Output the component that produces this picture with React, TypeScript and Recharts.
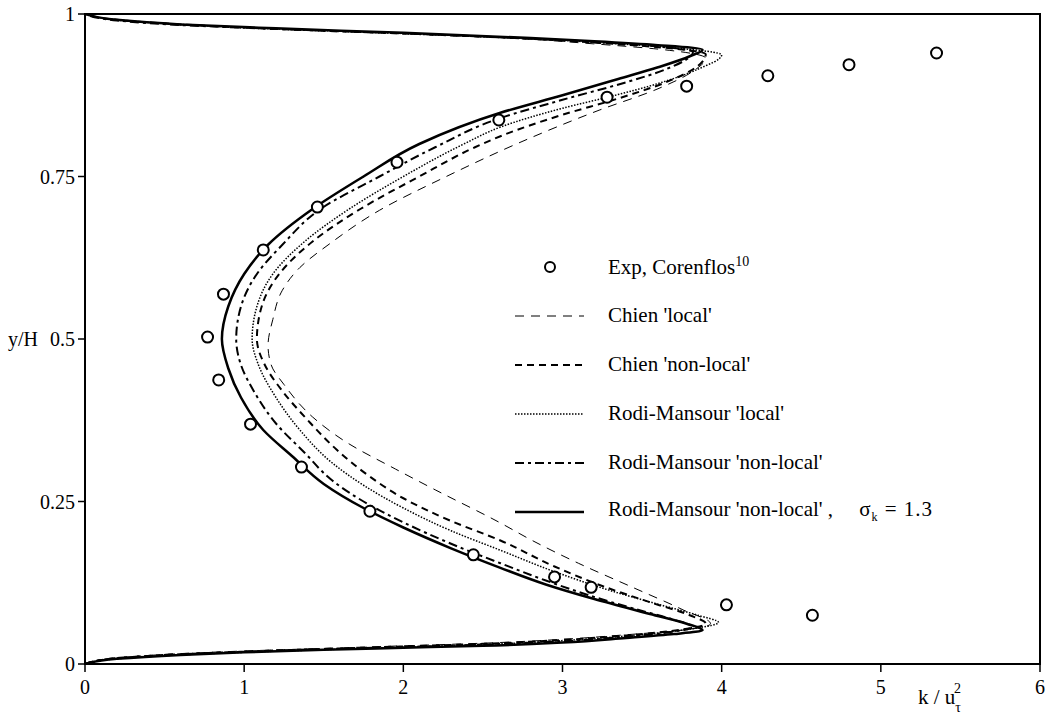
import {
  ComposedChart,
  Line,
  Scatter,
  XAxis,
  YAxis,
  Legend,
  ReferenceArea,
} from 'recharts'

type Pt = [number, number] // [k / u_tau^2, y / H]

const serif = '"Liberation Serif", "Times New Roman", Times, serif'

const xTicks = [0, 1, 2, 3, 4, 5, 6]
const yTicks = [0, 0.25, 0.5, 0.75, 1]

// experimental data, Corenflos
const expData: Pt[] = [
  [0.77, 0.503], [0.87, 0.569], [0.84, 0.437], [1.12, 0.637], [1.04, 0.369],
  [1.46, 0.703], [1.36, 0.303], [1.96, 0.772], [1.79, 0.235], [2.6, 0.837],
  [2.44, 0.168], [3.28, 0.872], [2.95, 0.134], [3.78, 0.889], [3.18, 0.118],
  [4.03, 0.091], [4.57, 0.075], [4.29, 0.905], [4.8, 0.922], [5.35, 0.94],
]

// each profile runs from the lower wall (y/H = 0) to the upper wall (y/H = 1)
const chienLocal: Pt[] = [
  [0, 0], [0.2, 0.009], [0.6, 0.016], [1.0, 0.02], [1.5, 0.024], [2.0, 0.028],
  [2.5, 0.032], [3.0, 0.038], [3.4, 0.045], [3.75, 0.052], [3.93, 0.062],
  [3.76, 0.083], [3.44, 0.118], [3.1, 0.155], [2.81, 0.19], [2.61, 0.217],
  [2.2, 0.268], [1.95, 0.3], [1.65, 0.34], [1.43, 0.38], [1.25, 0.43],
  [1.17, 0.46], [1.15, 0.49], [1.18, 0.53], [1.24, 0.575], [1.35, 0.61],
  [1.54, 0.647], [1.85, 0.698], [2.27, 0.75], [2.71, 0.8], [3.23, 0.852],
  [3.6, 0.885], [3.82, 0.912], [3.9, 0.932], [3.6, 0.946], [3.2, 0.954],
  [2.8, 0.961], [2.0, 0.97], [1.2, 0.977], [0.6, 0.984], [0.2, 0.991], [0, 1],
]

const chienNonLocal: Pt[] = [
  [0, 0], [0.2, 0.009], [0.6, 0.015], [1.0, 0.019], [1.5, 0.023], [2.0, 0.027],
  [2.5, 0.031], [3.0, 0.037], [3.4, 0.044], [3.75, 0.053], [3.9, 0.062],
  [3.8, 0.075], [3.55, 0.095], [3.25, 0.12], [2.95, 0.15], [2.61, 0.19],
  [2.3, 0.22], [2.0, 0.255], [1.78, 0.29], [1.58, 0.33], [1.4, 0.375],
  [1.24, 0.42], [1.13, 0.46], [1.08, 0.5], [1.11, 0.55], [1.22, 0.6],
  [1.43, 0.65], [1.73, 0.7], [2.1, 0.75], [2.45, 0.795], [2.61, 0.812],
  [3.0, 0.845], [3.35, 0.87], [3.65, 0.895], [3.85, 0.92], [3.9, 0.938],
  [3.6, 0.949], [3.2, 0.956], [2.8, 0.962], [2.0, 0.97], [1.2, 0.977],
  [0.6, 0.984], [0.2, 0.991], [0, 1],
]

const rodiLocal: Pt[] = [
  [0, 0], [0.2, 0.008], [0.6, 0.014], [1.0, 0.018], [1.5, 0.022], [2.0, 0.026],
  [2.5, 0.03], [3.0, 0.036], [3.4, 0.043], [3.75, 0.052], [3.98, 0.064],
  [3.85, 0.075], [3.6, 0.092], [3.3, 0.113], [2.95, 0.142], [2.61, 0.175],
  [2.3, 0.205], [2.0, 0.24], [1.75, 0.275], [1.55, 0.31], [1.35, 0.36],
  [1.2, 0.41], [1.09, 0.46], [1.05, 0.5], [1.08, 0.55], [1.18, 0.6],
  [1.38, 0.65], [1.66, 0.7], [2.0, 0.75], [2.38, 0.8], [2.61, 0.826],
  [3.0, 0.855], [3.3, 0.873], [3.6, 0.893], [3.85, 0.915], [4.0, 0.937],
  [3.7, 0.948], [3.3, 0.955], [2.8, 0.962], [2.0, 0.97], [1.2, 0.977],
  [0.6, 0.984], [0.2, 0.991], [0, 1],
]

const rodiNonLocal: Pt[] = [
  [0, 0], [0.2, 0.009], [0.6, 0.015], [1.0, 0.019], [1.5, 0.023], [2.0, 0.026],
  [2.5, 0.03], [3.0, 0.035], [3.4, 0.042], [3.7, 0.05], [3.82, 0.057],
  [3.7, 0.068], [3.45, 0.085], [3.15, 0.107], [2.9, 0.128], [2.61, 0.155],
  [2.3, 0.185], [2.0, 0.218], [1.75, 0.25], [1.55, 0.283], [1.38, 0.325],
  [1.2, 0.37], [1.06, 0.42], [0.98, 0.46], [0.95, 0.5], [0.98, 0.55],
  [1.08, 0.6], [1.24, 0.645], [1.48, 0.7], [1.85, 0.75], [2.2, 0.795],
  [2.61, 0.84], [3.0, 0.868], [3.4, 0.895], [3.65, 0.915], [3.82, 0.942],
  [3.55, 0.951], [3.2, 0.957], [2.8, 0.962], [2.0, 0.97], [1.2, 0.977],
  [0.6, 0.983], [0.2, 0.99], [0, 1],
]

const rodiNonLocalSigma: Pt[] = [
  [0, 0], [0.2, 0.008], [0.6, 0.014], [1.0, 0.018], [1.5, 0.022], [2.0, 0.025],
  [2.5, 0.028], [3.0, 0.033], [3.4, 0.04], [3.7, 0.046], [3.88, 0.052],
  [3.78, 0.062], [3.55, 0.077], [3.2, 0.1], [2.9, 0.122], [2.61, 0.148],
  [2.3, 0.178], [2.0, 0.21], [1.75, 0.24], [1.5, 0.277], [1.3, 0.32],
  [1.12, 0.36], [0.98, 0.41], [0.9, 0.455], [0.86, 0.5], [0.9, 0.55],
  [1.0, 0.6], [1.15, 0.645], [1.43, 0.7], [1.75, 0.75], [2.1, 0.8],
  [2.61, 0.848], [3.0, 0.875], [3.35, 0.9], [3.6, 0.918], [3.8, 0.935],
  [3.88, 0.945], [3.6, 0.952], [3.2, 0.958], [2.8, 0.963], [2.0, 0.971],
  [1.2, 0.978], [0.6, 0.984], [0.2, 0.991], [0, 1],
]

const toRows = (pts: Pt[]) => pts.map(([k, y]) => ({ k, y }))

const curves = [
  { name: "Chien 'local'", pts: chienLocal, width: 1, dash: '9 7' },
  { name: "Chien 'non-local'", pts: chienNonLocal, width: 2, dash: '7 5' },
  { name: "Rodi-Mansour 'local'", pts: rodiLocal, width: 1.5, dash: '1.5 1.5' },
  { name: "Rodi-Mansour 'non-local'", pts: rodiNonLocal, width: 2, dash: '9 4 3 4' },
  { name: "Rodi-Mansour 'non-local' ,", pts: rodiNonLocalSigma, width: 2.5, dash: undefined },
]

function LegendBox() {
  const row = { display: 'flex', alignItems: 'center', height: 49 } as const
  return (
    <div style={{ fontFamily: serif, fontSize: 21, color: '#000' }}>
      <div style={row}>
        <svg width={100} height={20}>
          <circle cx={42} cy={10} r={5} fill="#fff" stroke="#000" strokeWidth={2} />
        </svg>
        <span>
          Exp, Corenflos<sup style={{ fontSize: 14, color: '#000' }}>10</sup>
        </span>
      </div>
      {curves.map((c) => (
        <div key={c.name} style={row}>
          <svg width={100} height={20}>
            <line
              x1={7}
              x2={76}
              y1={10}
              y2={10}
              stroke="#000"
              strokeWidth={c.width}
              strokeDasharray={c.dash}
            />
          </svg>
          <span style={{ whiteSpace: 'pre' }}>
            {c.name}
            {c.dash === undefined && (
              <span style={{ marginLeft: 26, letterSpacing: 1 }}>
                σ<sub style={{ fontSize: 12, color: '#000' }}>k</sub> = 1.3
              </span>
            )}
          </span>
        </div>
      ))}
    </div>
  )
}

export default function App() {
  return (
    <div style={{ position: 'absolute', left: 0, top: 0, background: '#fff' }}>
      <ComposedChart width={1050} height={720} margin={{ top: 14, right: 10, left: 25, bottom: 0 }}>
        <XAxis
          dataKey="k"
          type="number"
          domain={[0, 6]}
          ticks={xTicks}
          allowDataOverflow
          height={56}
          tickSize={8}
          tickMargin={8}
          tick={{ fill: '#000', fontSize: 20, fontFamily: serif }}
          axisLine={{ stroke: '#000', strokeWidth: 2 }}
          tickLine={{ stroke: '#000', strokeWidth: 1.5 }}
          label={{
            content: () => (
              <text x={918} y={704} fontFamily={serif} fontSize={21} fill="#000">
                k / u
                <tspan dy={8} fontSize={14}>τ</tspan>
                <tspan dx={-7} dy={-19} fontSize={14}>2</tspan>
              </text>
            ),
          }}
        />
        <YAxis
          dataKey="y"
          type="number"
          domain={[0, 1]}
          ticks={yTicks}
          allowDataOverflow
          width={60}
          tickSize={7}
          tickMargin={3}
          tick={{ fill: '#000', fontSize: 20, fontFamily: serif }}
          axisLine={{ stroke: '#000', strokeWidth: 2 }}
          tickLine={{ stroke: '#000', strokeWidth: 1.5 }}
          label={{
            content: () => (
              <text x={8} y={346} fontFamily={serif} fontSize={20} fill="#000">
                y/H
              </text>
            ),
          }}
        />
        <ReferenceArea
          x1={0}
          x2={6}
          y1={0}
          y2={1}
          fill="none"
          stroke="#000"
          strokeWidth={2}
          ifOverflow="visible"
        />
        {curves.map((c) => (
          <Line
            key={c.name}
            data={toRows(c.pts)}
            dataKey="y"
            type="monotoneY"
            stroke="#000"
            strokeWidth={c.width}
            strokeDasharray={c.dash}
            dot={false}
            activeDot={false}
            isAnimationActive={false}
          />
        ))}
        <Scatter
          data={toRows(expData)}
          dataKey="y"
          fill="#fff"
          stroke="#000"
          strokeWidth={2}
          isAnimationActive={false}
          shape={(p: any) => (
            <circle cx={p.cx} cy={p.cy} r={5.5} fill="#fff" stroke="#000" strokeWidth={2} />
          )}
        />
        <Legend
          layout="horizontal"
          verticalAlign="middle"
          align="center"
          content={() => <LegendBox />}
          wrapperStyle={{ left: 508, top: 242, width: 500 }}
        />
      </ComposedChart>
    </div>
  )
}
